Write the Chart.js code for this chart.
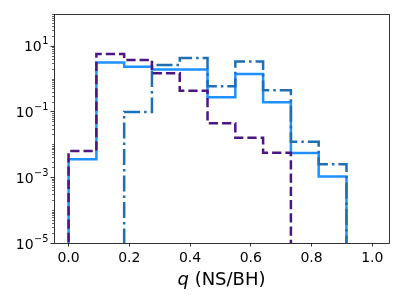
<!DOCTYPE html>
<html>
<head>
<meta charset="utf-8">
<script src="https://cdn.jsdelivr.net/npm/chart.js@4/dist/chart.umd.min.js"></script>
<style>
    html, body { margin: 0; padding: 0; background: #fff; }
    #wrap { width: 403px; height: 302px; }
</style>
</head>
<body>
<div id="wrap"><canvas id="chart" width="403" height="302"></canvas></div>
<script>
// histogram bin edges in q (NS/BH)
const binEdges = [0, 0.0915, 0.183, 0.2745, 0.366, 0.4575, 0.549, 0.6405, 0.732, 0.8235, 0.915, 1.0065];

// bin heights (0 = empty bin)
const solidVals   = [0.0035, 3.1, 2.3, 1.9, 1.9, 0.27, 1.38, 0.19, 0.0055, 0.00105, 0];
const dashDotVals = [0, 0, 0.096, 2.6, 4.2, 0.58, 3.3, 0.44, 0.012, 0.0025, 0];
const dashedVals  = [0.0063, 5.6, 3.7, 1.45, 0.43, 0.044, 0.016, 0.0056, 0, 0, 0];

// tick labels
const xTicks = [0, 0.2, 0.4, 0.6, 0.8, 1.0];
const yTickExps = [1, -1, -3, -5];
const xTitleItalic = 'q';
const xTitleRest = ' (NS/BH)';

const FONT = "'DejaVu Sans', sans-serif";
const FLOOR = 1e-9; // empty bins sit below the log axis

// turn bin heights into step outline points
function stepPoints(vals) {
    const pts = [{ x: binEdges[0], y: FLOOR }];
    vals.forEach((v, i) => pts.push({ x: binEdges[i], y: v > 0 ? v : FLOOR }));
    pts.push({ x: binEdges[binEdges.length - 1], y: FLOOR });
    return pts;
}

// frame, log ticks, superscript labels and axis title
const axesPlugin = {
    id: 'axesPlugin',
    afterDraw(chart) {
        const ctx = chart.ctx;
        const area = chart.chartArea;
        const y = chart.scales.y;
        ctx.save();
        ctx.strokeStyle = '#000';
        ctx.fillStyle = '#000';

        // y ticks: majors every other decade, minors elsewhere
        for (let n = -5; n <= 1; n++) {
            for (let k = 1; k <= 9; k++) {
                const v = k * Math.pow(10, n);
                if (v > y.max) continue;
                const py = Math.round(y.getPixelForValue(v)) + 0.5;
                const major = k === 1 && yTickExps.includes(n);
                ctx.lineWidth = major ? 0.8 : 0.6;
                ctx.beginPath();
                ctx.moveTo(area.left, py);
                ctx.lineTo(area.left - (major ? 3.5 : 2), py);
                ctx.stroke();
            }
        }

        // y labels as 10^n
        ctx.textBaseline = 'alphabetic';
        ctx.textAlign = 'left';
        yTickExps.forEach(e => {
            const py = y.getPixelForValue(Math.pow(10, e));
            const sup = (e < 0 ? '\u2212' : '') + Math.abs(e);
            ctx.font = '9.8px ' + FONT;
            const supW = ctx.measureText(sup).width;
            ctx.font = '14px ' + FONT;
            const baseW = ctx.measureText('10').width;
            const right = area.left - 5.5;
            const x0 = right - supW - baseW - 0.5;
            ctx.fillText('10', x0, py + 5.5);
            ctx.font = '9.8px ' + FONT;
            ctx.fillText(sup, x0 + baseW + 0.5, py - 1.5);
        });

        // x axis title with italic q
        ctx.font = 'italic 18px ' + FONT;
        const w1 = ctx.measureText(xTitleItalic).width;
        ctx.font = '18px ' + FONT;
        const w2 = ctx.measureText(xTitleRest).width;
        const cx = (area.left + area.right) / 2;
        const tx = cx - (w1 + w2) / 2;
        ctx.font = 'italic 18px ' + FONT;
        ctx.fillText(xTitleItalic, tx, 285);
        ctx.font = '18px ' + FONT;
        ctx.fillText(xTitleRest, tx + w1, 285);

        // frame on all four sides
        ctx.lineWidth = 0.8;
        ctx.strokeRect(Math.round(area.left) + 0.5, Math.round(area.top) + 0.5,
            Math.round(area.right - area.left), Math.round(area.bottom - area.top));
        ctx.restore();
    }
};

const ctx = document.getElementById('chart').getContext('2d');
new Chart(ctx, {
    type: 'line',
    data: {
        datasets: [
            {
                data: stepPoints(dashedVals),
                borderColor: '#4b1584',
                borderWidth: 2.5,
                borderDash: [9.25, 4],
                stepped: 'before',
                order: 1
            },
            {
                data: stepPoints(dashDotVals),
                borderColor: '#1f6fb2',
                borderWidth: 2.5,
                borderDash: [16, 4, 2.5, 4],
                stepped: 'before',
                order: 2
            },
            {
                data: stepPoints(solidVals),
                borderColor: '#1e90ff',
                borderWidth: 2.5,
                stepped: 'before',
                order: 3
            }
        ]
    },
    options: {
        responsive: false,
        animation: false,
        devicePixelRatio: 1,
        layout: { padding: { top: 14, right: 14, left: 0, bottom: 0 } },
        plugins: {
            legend: { display: false },
            tooltip: { enabled: false }
        },
        elements: { point: { radius: 0 } },
        scales: {
            x: {
                type: 'linear',
                min: -0.048,
                max: 1.055,
                afterBuildTicks: s => { s.ticks = xTicks.map(v => ({ value: v })); },
                afterFit: s => { s.height = 59; },
                ticks: {
                    callback: v => v.toFixed(1),
                    font: { family: FONT, size: 14 },
                    color: '#000',
                    padding: 3,
                    maxRotation: 0,
                    autoSkip: false
                },
                grid: { drawOnChartArea: false, drawTicks: true, tickLength: 3.5, color: '#000', lineWidth: 0.8 },
                border: { display: false }
            },
            y: {
                type: 'logarithmic',
                min: 1e-5,
                max: 92,
                afterFit: s => { s.width = 54; },
                ticks: { display: false },
                grid: { display: false },
                border: { display: false }
            }
        }
    },
    plugins: [axesPlugin]
});
</script>
</body>
</html>
